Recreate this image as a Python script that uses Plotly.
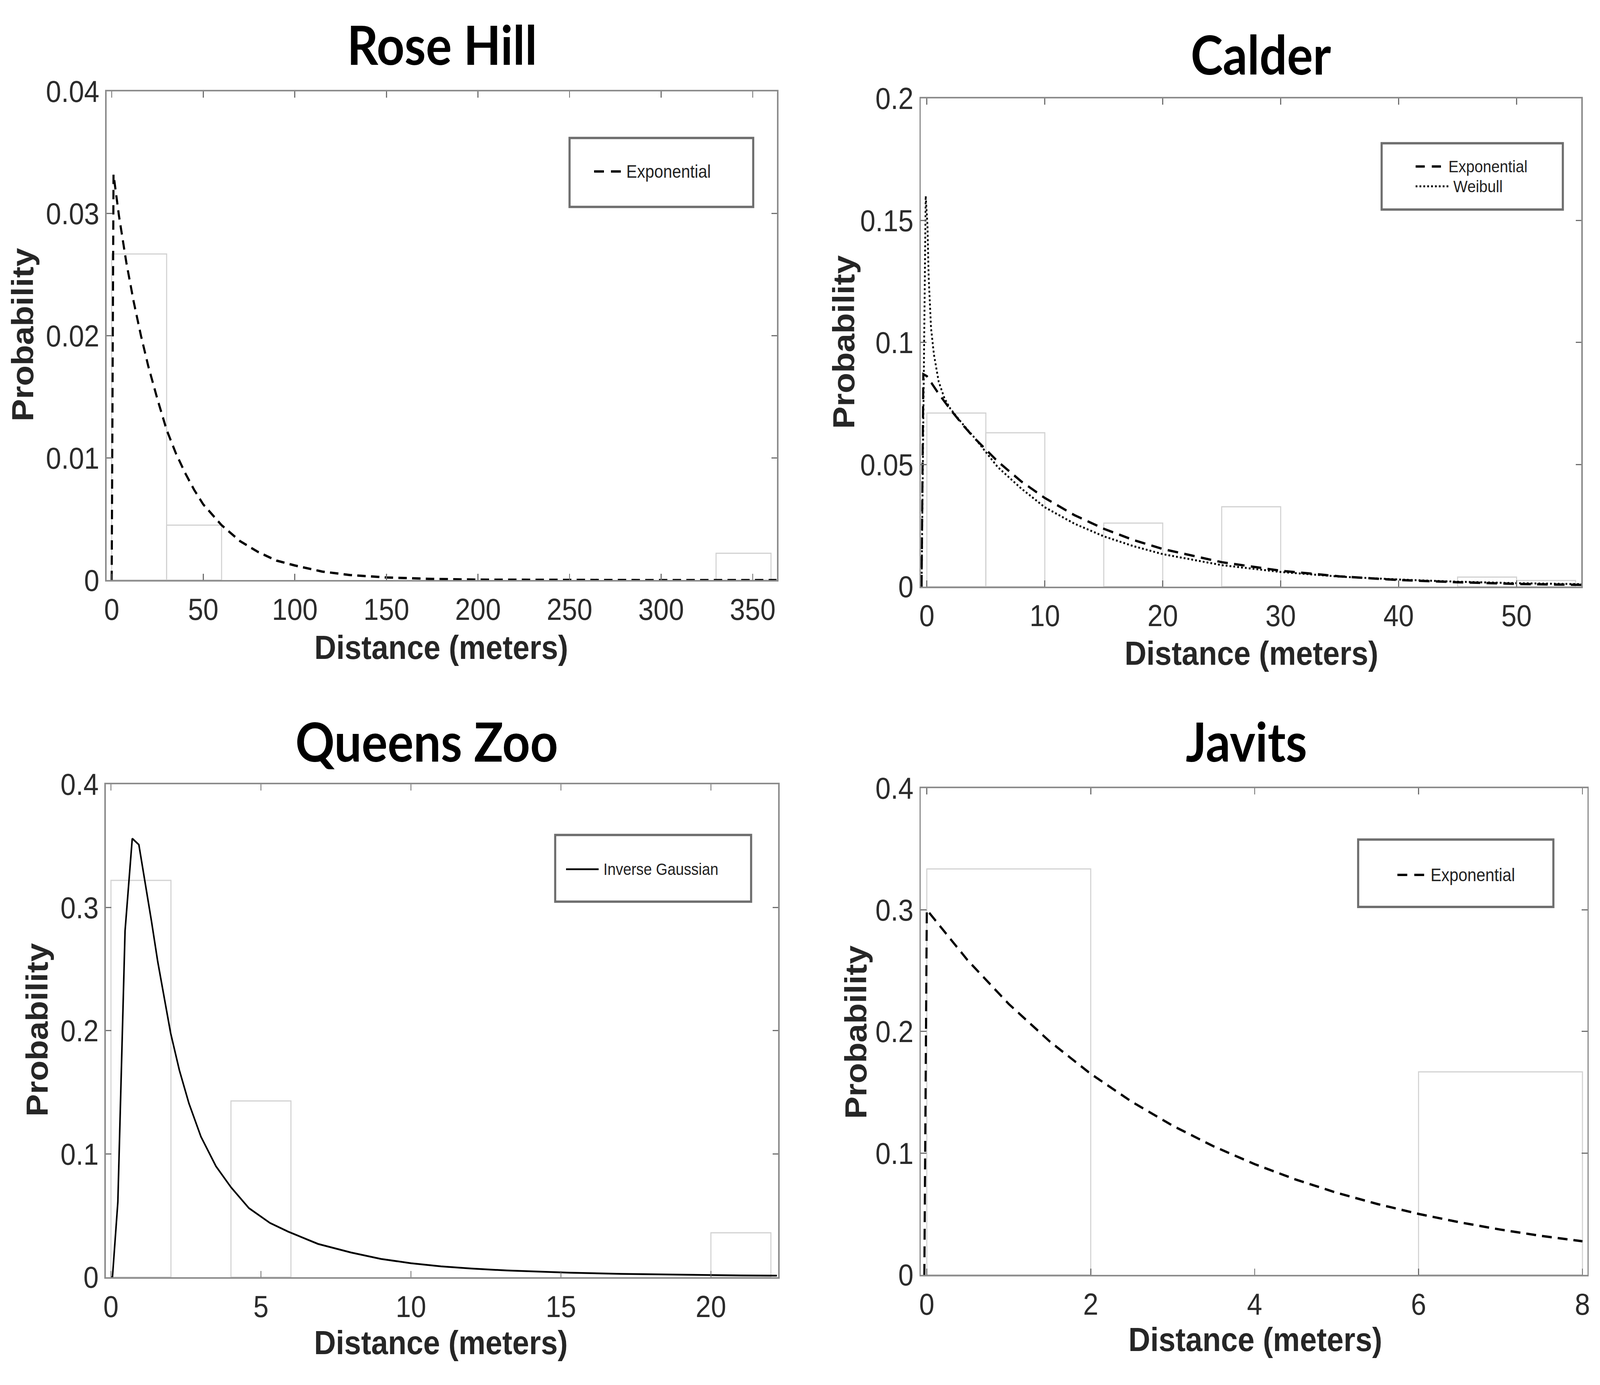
import plotly.graph_objects as go

# ---------------- data ----------------
# Rose Hill
rose_bin_left = [0, 30, 330]
rose_bin_height = [0.0267, 0.0045, 0.0022]
rose_bin_width = 30
rose_exp_x = [0, 1, 4, 8, 12, 16, 20, 25, 30, 35, 40, 45, 50, 60, 70, 80, 90, 100,
              115, 130, 150, 175, 200, 250, 300, 363]
rose_exp_y = [0, 0.0332, 0.0298, 0.0260, 0.0228, 0.0200, 0.0175, 0.0148, 0.0123,
              0.0104, 0.0088, 0.0074, 0.0062, 0.0045, 0.0032, 0.0023, 0.0016, 0.0012,
              0.0007, 0.00042, 0.00022, 0.0001, 0.00004, 0.00001, 0, 0]

# Calder
calder_bin_left = [0, 5, 15, 25, 45, 50]
calder_bin_height = [0.0711, 0.063, 0.026, 0.0327, 0.0039, 0.0025]
calder_bin_width = 5
calder_exp_x = [-0.45, -0.3, 0, 1, 2, 3, 4, 5, 6, 8, 10, 12.5, 15, 17.5, 20, 25, 30,
                35, 40, 45, 50, 55.5]
calder_exp_y = [0, 0.087, 0.0862, 0.0790, 0.0725, 0.0665, 0.0610, 0.0562, 0.0513,
                0.0431, 0.0363, 0.0293, 0.0237, 0.0191, 0.0154, 0.0100, 0.0065,
                0.0042, 0.0027, 0.0018, 0.0011, 0.0007]
calder_wei_x = [-0.45, -0.1, 0.05, 0.15, 0.35, 0.6, 1.0, 1.5, 2, 3, 4, 5, 6, 8, 10,
                12.5, 15, 17.5, 20, 25, 30, 35, 40, 45, 50, 55.5]
calder_wei_y = [0, 0.160, 0.148, 0.127, 0.106, 0.095, 0.084, 0.077, 0.0728, 0.0668,
                0.0612, 0.0552, 0.049, 0.0402, 0.0325, 0.0258, 0.0206, 0.0166,
                0.0133, 0.0088, 0.006, 0.0041, 0.0029, 0.002, 0.0014, 0.001]

# Queens Zoo
queens_bin_left = [0, 4, 20]
queens_bin_height = [0.322, 0.143, 0.036]
queens_bin_width = 2
queens_ig_x = [0, 0.05, 0.23, 0.47, 0.71, 0.93, 1.14, 1.35, 1.56, 1.77, 1.99, 2.28,
               2.6, 3.0, 3.5, 4.0, 4.6, 5.3, 5.9, 6.9, 8.0, 9.0, 10.0, 11.0, 12.0,
               13.2, 14.5, 15.3, 17, 19, 21, 22.2]
queens_ig_y = [0, 0, 0.061, 0.281, 0.356, 0.351, 0.320, 0.289, 0.256, 0.227, 0.198,
               0.168, 0.141, 0.114, 0.090, 0.073, 0.056, 0.044, 0.037, 0.027, 0.020,
               0.0148, 0.0113, 0.0088, 0.0070, 0.0054, 0.0042, 0.0036, 0.0027,
               0.0019, 0.0014, 0.0012]

# Javits
javits_bin_left = [0, 6]
javits_bin_height = [0.3336, 0.1668]
javits_bin_width = 2
javits_exp_x = [-0.03, 0, 0.5, 1, 1.5, 2, 2.5, 3, 3.5, 4, 4.5, 5, 5.5, 6, 6.5, 7, 7.5, 8]
javits_exp_y = [0, 0.300, 0.2584, 0.2226, 0.1918, 0.1652, 0.1423, 0.1226, 0.1056,
                0.0910, 0.0784, 0.0675, 0.0582, 0.0501, 0.0432, 0.0372, 0.0320, 0.0276]

titles = ["Rose Hill", "Calder", "Queens Zoo", "Javits"]
x_label = "Distance (meters)"
y_label = "Probability"

# ---------------- figure ----------------
W, H = 4550, 3546
fig = go.Figure()

BAR_LINE = "#d2d2d2"


def add_bars(left, heights, width, xa, ya):
    fig.add_trace(go.Bar(
        x=[l + width / 2 for l in left], y=heights, width=[width] * len(left),
        marker=dict(color="rgba(0,0,0,0)", line=dict(color=BAR_LINE, width=3)),
        xaxis=xa, yaxis=ya, showlegend=False, hoverinfo="skip"))


def add_line(x, y, xa, ya, dash, width):
    fig.add_trace(go.Scatter(
        x=x, y=y, mode="lines", line=dict(color="black", width=width, dash=dash),
        xaxis=xa, yaxis=ya, showlegend=False))


add_bars(rose_bin_left, rose_bin_height, rose_bin_width, "x", "y")
add_line(rose_exp_x, rose_exp_y, "x", "y", "24px,15px", 6)

add_bars(calder_bin_left, calder_bin_height, calder_bin_width, "x2", "y2")
add_line(calder_exp_x, calder_exp_y, "x2", "y2", "30px,18px", 6)
add_line(calder_wei_x, calder_wei_y, "x2", "y2", "5px,6px", 5)

add_bars(queens_bin_left, queens_bin_height, queens_bin_width, "x3", "y3")
add_line(queens_ig_x, queens_ig_y, "x3", "y3", "solid", 4.5)

add_bars(javits_bin_left, javits_bin_height, javits_bin_width, "x4", "y4")
add_line(javits_exp_x, javits_exp_y, "x4", "y4", "28px,17px", 6)

TICKFONT = dict(family="Liberation Sans", size=78, color="#2b2b2b")


def xaxis(domain, rng, dtick, anchor):
    return dict(domain=domain, range=rng, dtick=dtick, tick0=0, anchor=anchor,
                showline=True, mirror="ticks", linecolor="#8c8c8c", linewidth=4,
                ticks="inside", ticklen=16, tickwidth=3, tickcolor="#707070",
                showgrid=False, zeroline=False, tickfont=TICKFONT,
                ticklabelstandoff=4)


def yaxis(domain, rng, dtick, anchor):
    return dict(domain=domain, range=rng, dtick=dtick, tick0=0, anchor=anchor,
                showline=True, mirror="ticks", linecolor="#8c8c8c", linewidth=4,
                ticks="inside", ticklen=16, tickwidth=3, tickcolor="#707070",
                showgrid=False, zeroline=False, tickfont=TICKFONT,
                ticklabelstandoff=1)


def px_x(v):
    return v / W


def px_y(v):
    return 1 - v / H


layout = dict(
    width=W, height=H, margin=dict(l=0, r=0, t=0, b=0),
    paper_bgcolor="white", plot_bgcolor="white", showlegend=False,
    xaxis=xaxis([px_x(297), px_x(2210)], [-2.8, 363.3], 50, "y"),
    yaxis=yaxis([px_y(1478), px_y(195)], [0, 0.04], 0.01, "x"),
    xaxis2=xaxis([px_x(2620), px_x(4505)], [-0.52, 55.5], 10, "y2"),
    yaxis2=yaxis([px_y(1495), px_y(213)], [0, 0.2], 0.05, "x2"),
    xaxis3=xaxis([px_x(295), px_x(2213)], [-0.17, 22.24], 5, "y3"),
    yaxis3=yaxis([px_y(3308), px_y(2014)], [0, 0.4], 0.1, "x3"),
    xaxis4=xaxis([px_x(2620), px_x(4522)], [-0.074, 8.06], 2, "y4"),
    yaxis4=yaxis([px_y(3302), px_y(2024)], [0, 0.4], 0.1, "x4"),
)
fig.update_layout(**layout)

ann = []
# panel titles
title_pos = [(1254, 70), (3590, 96), (1210, 1900), (3549, 1900)]
for t, (cx, cy) in zip(titles, title_pos):
    ann.append(dict(text=t, x=px_x(cx), y=px_y(cy), xref="paper", yref="paper",
                    showarrow=False, xanchor="center", yanchor="middle",
                    font=dict(family="Lato", size=138, color="black", weight="bold")))
# axis titles
xl_pos = [(1252, 1654), (3564, 1669), (1251, 3479), (3575, 3471)]
for cx, cy in xl_pos:
    ann.append(dict(text=x_label, x=px_x(cx), y=px_y(cy), xref="paper", yref="paper",
                    showarrow=False, xanchor="center", yanchor="middle",
                    font=dict(family="Liberation Sans", size=86, color="#262626",
                              weight="bold")))
yl_pos = [(58, 833), (2400, 853), (99, 2658), (2435, 2664)]
for cx, cy in yl_pos:
    ann.append(dict(text=y_label, x=px_x(cx), y=px_y(cy), xref="paper", yref="paper",
                    showarrow=False, xanchor="center", yanchor="middle", textangle=-90,
                    font=dict(family="Liberation Sans", size=86, color="#262626",
                              weight="bold")))

# legends (box, sample line, label)
shapes = []
legends = [
    dict(box=(1618, 317, 2142, 498),
         items=[("Exponential", "28px,20px", 6, 1688, 1766, 405, 46)]),
    dict(box=(3935, 331, 4452, 505),
         items=[("Exponential", "26px,20px", 6, 4032, 4112, 392, 43),
                ("Weibull", "5px,6px", 5, 4032, 4126, 444, 43)]),
    dict(box=(1577, 2147, 2136, 2322),
         items=[("Inverse Gaussian", "solid", 4.5, 1608, 1701, 2237, 42)]),
    dict(box=(3868, 2159, 4425, 2336),
         items=[("Exponential", "28px,20px", 6, 3980, 4060, 2252, 46)]),
]
for lg in legends:
    x0, y0, x1, y1 = lg["box"]
    shapes.append(dict(type="rect", xref="paper", yref="paper",
                       x0=px_x(x0), x1=px_x(x1), y0=px_y(y1), y1=px_y(y0),
                       line=dict(color="#6e6e6e", width=6), fillcolor="white",
                       layer="above"))
    for label, dash, lw, sx0, sx1, sy, fs in lg["items"]:
        shapes.append(dict(type="line", xref="paper", yref="paper",
                           x0=px_x(sx0), x1=px_x(sx1), y0=px_y(sy), y1=px_y(sy),
                           line=dict(color="black", width=lw, dash=dash),
                           layer="above"))
        ann.append(dict(text=label, x=px_x(sx1 + 12), y=px_y(sy), xref="paper",
                        yref="paper", showarrow=False, xanchor="left",
                        yanchor="middle",
                        font=dict(family="Liberation Sans", size=fs, color="#222222")))

fig.update_layout(annotations=ann, shapes=shapes)

# Fit the fixed 4550x3546 figure exactly into the browser viewport
# (identity when the viewport already is 4550x3546).
post_js = """
(function(){
  var gd = document.getElementById('{plot_id}');
  var W = 4550, H = 3546;
  var sx = Math.min(1, window.innerWidth / W);
  var sy = Math.min(1, window.innerHeight / H);
  document.documentElement.style.margin = '0';
  document.body.style.margin = '0';
  document.documentElement.style.overflow = 'hidden';
  document.body.style.overflow = 'hidden';
  var wrap = gd.parentElement;
  gd.style.transformOrigin = '0 0';
  gd.style.transform = 'scale(' + sx + ',' + sy + ')';
  wrap.style.width = (W * sx) + 'px';
  wrap.style.height = (H * sy) + 'px';
  wrap.style.overflow = 'hidden';
})();
"""
fig.write_html("out.html", post_script=post_js,
               config={"displayModeBar": False, "staticPlot": True})
